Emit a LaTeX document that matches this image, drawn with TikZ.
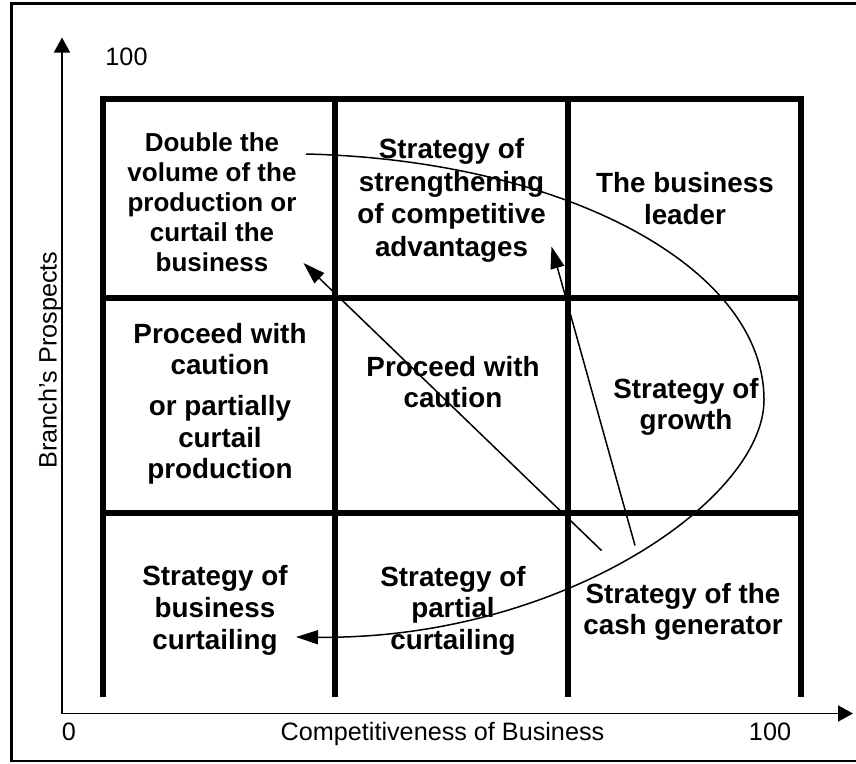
\documentclass[tikz,border=0pt]{standalone}
\usepackage{fontspec}
\setmainfont{Liberation Sans}
\usetikzlibrary{arrows.meta}

\tikzset{
  gridline/.style={line width=6pt},
  frameline/.style={line width=2.5pt},
  axisline/.style={line width=1.8pt, -{Triangle[length=15pt,width=16pt]}},
  flowarrow/.style={line width=1.5pt, -{Triangle[length=22pt,width=14pt]}},
  % multi-line cell texts are placed by the baseline of their last line
  cellbig/.style={font=\bfseries\fontsize{27.8}{32}\selectfont, align=center, anchor=base, inner sep=0pt},
  cellsmall/.style={font=\bfseries\fontsize{26}{30}\selectfont, align=center, anchor=base, inner sep=0pt},
  axislabel/.style={font=\fontsize{25.2}{29}\selectfont, anchor=base, inner sep=0pt},
}

\begin{document}
\begin{tikzpicture}[x=1pt,y=-1pt]
  \useasboundingbox (0,0) rectangle (856,763);

  % outer frame (open on the right)
  \draw[frameline] (856,3.3) -- (11.3,3.3) -- (11.3,761) -- (856,761);

  % axes
  \coordinate (origin) at (62,713.5);
  \coordinate (ytip) at (62,37.5);
  \coordinate (xtip) at (853,713.5);
  \draw[axisline] (origin) -- (ytip);
  \draw[axisline] (origin) -- (xtip);

  % axis labels
  \node[axislabel] (ymax) at (126.5,65.7) {100};
  \node[axislabel] (zero) at (69,740) {0};
  \node[axislabel] (xmax) at (770,740) {100};
  \node[axislabel] (xname) at (442.5,740) {Competitiveness of Business};
  \node[axislabel, rotate=90] (yname) at (56.5,360) {Branch’s Prospects};

  % matrix grid
  \draw[gridline] (102.5,99) -- (801,99);
  \draw[gridline] (102.5,298) -- (801,298);
  \draw[gridline] (102.5,513) -- (801,513);
  \foreach \gx in {102.5,335,568,801}
    \draw[gridline] (\gx,96) -- (\gx,697);

  % cell texts, top row
  \node[cellsmall] (c11) at (212,271.7) {Double the\\volume of the\\production or\\curtail the\\business};
  \node[cellbig, font=\bfseries\fontsize{27.8}{32.8}\selectfont] (c12) at (451.5,256.7) {Strategy of\\strengthening\\of competitive\\advantages};
  \node[cellbig] (c13) at (685,224) {The business\\leader};

  % middle row
  \node[cellbig, font=\bfseries\fontsize{27.8}{31.2}\selectfont] (c21) at (220,478.3) {Proceed with\\caution\\[10.5pt]or partially\\curtail\\production};
  \node[cellbig, font=\bfseries\fontsize{27.8}{31.3}\selectfont] (c22) at (453,407.3) {Proceed with\\caution};
  \node[cellbig, font=\bfseries\fontsize{27.8}{31}\selectfont] (c23) at (686,429.3) {Strategy of\\growth};

  % bottom row
  \node[cellbig] (c31) at (215,649) {Strategy of\\business\\curtailing};
  \node[cellbig, font=\bfseries\fontsize{27.8}{31.5}\selectfont] (c32) at (453,649) {Strategy of\\partial\\curtailing};
  \node[cellbig, font=\bfseries\fontsize{27.8}{30.7}\selectfont] (c33) at (683,634) {Strategy of the\\cash generator};

  % movement arrows
  \coordinate (a1s) at (601.5,550.5);
  \coordinate (a1e) at (303.5,263);
  \coordinate (a2s) at (635,545.5);
  \coordinate (a2e) at (551.5,246.5);
  \draw[flowarrow] (a1s) -- (a1e);
  \draw[flowarrow] (a2s) -- (a2e);

  % loop from the top-left cell round to the bottom-left cell
  \coordinate (ls) at (306,154);
  \coordinate (lm) at (764,400);
  \coordinate (le) at (296,637);
  \draw[flowarrow] (ls) .. controls (560,160) and (764,265) .. (lm)
                        .. controls (764,500) and (560,640) .. (le);
\end{tikzpicture}
\end{document}
